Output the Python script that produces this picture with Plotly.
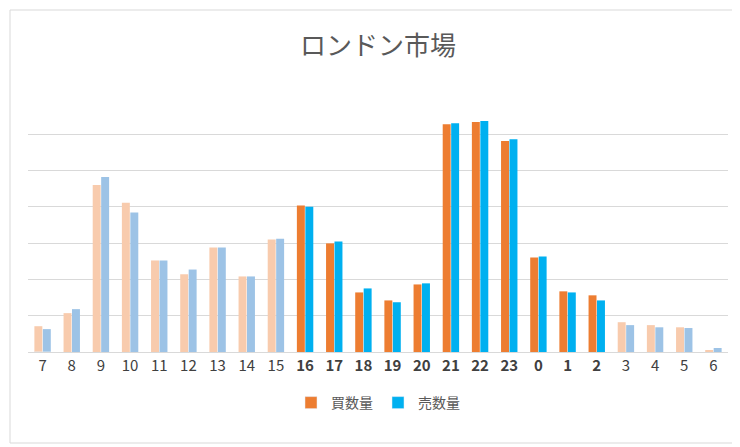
import plotly.graph_objects as go

hours = ["7","8","9","10","11","12","13","14","15","16","17","18","19","20","21","22","23","0","1","2","3","4","5","6"]
buy = [71,107,460,411,252,214,288,208,310,403,299,164,142,186,627,633,581,260,167,156,82,74,68,5]
sell = [63,118,482,384,252,227,288,208,312,400,304,175,137,189,630,636,586,263,164,142,74,68,66,11]
highlight = [h in ["16","17","18","19","20","21","22","23","0","1","2"] for h in hours]
ticklabels = [f"<b>{h}</b>" if hl else h for h, hl in zip(hours, highlight)]

buy_colors = ["#ED7D31" if hl else "#F8CBAD" for hl in highlight]
sell_colors = ["#00B0F0" if hl else "#9DC3E6" for hl in highlight]

fig = go.Figure()
fig.add_trace(go.Bar(x=hours, y=buy, name="買数量", offsetgroup="a", showlegend=False,
                     marker=dict(color=buy_colors, line_width=0)))
fig.add_trace(go.Bar(x=hours, y=sell, name="売数量", offsetgroup="b", showlegend=False,
                     marker=dict(color=sell_colors, line_width=0)))
fig.add_trace(go.Bar(x=[hours[0]], y=[0], name="買数量", offsetgroup="a", marker_color="#ED7D31"))
fig.add_trace(go.Bar(x=[hours[0]], y=[0], name="売数量", offsetgroup="b", marker_color="#00B0F0"))

W, H = 740, 447
ml, mr, mt, mb = 20, 20, 89, 103
pw, ph = W - ml - mr, H - mt - mb
fig.update_layout(
    width=W, height=H, margin=dict(l=ml, r=mr, t=mt, b=mb),
    paper_bgcolor="white", plot_bgcolor="white",
    font=dict(family="Noto Sans CJK JP", color="#595959"),
    title=dict(text="ロンドン市場", x=0.5, xanchor="center", y=0.915, yanchor="middle",
               font=dict(size=26, color="#595959")),
    barmode="group", bargap=0.42, bargroupgap=0.06,
    xaxis=dict(tickmode="array", tickvals=hours, ticktext=ticklabels,
               tickfont=dict(size=15, color="#404040"), showline=True, linecolor="#d9d9d9", ticks=""),
    yaxis=dict(range=[0, 702], tickvals=[100,200,300,400,500,600,700], showticklabels=False,
               gridcolor="#d9d9d9", zeroline=False),
    legend=dict(orientation="h", x=0.5, xanchor="center", y=-0.2, yanchor="middle",
                font=dict(size=14, color="#595959")),
    shapes=[dict(type="rect", xref="paper", yref="paper",
                 x0=-(ml - 2) / pw, x1=1 + (mr - 12) / pw, y0=-(mb - 12) / ph, y1=1 + (mt - 2) / ph,
                 line=dict(color="#d9d9d9", width=1))],
)
fig.write_html("out.html")
